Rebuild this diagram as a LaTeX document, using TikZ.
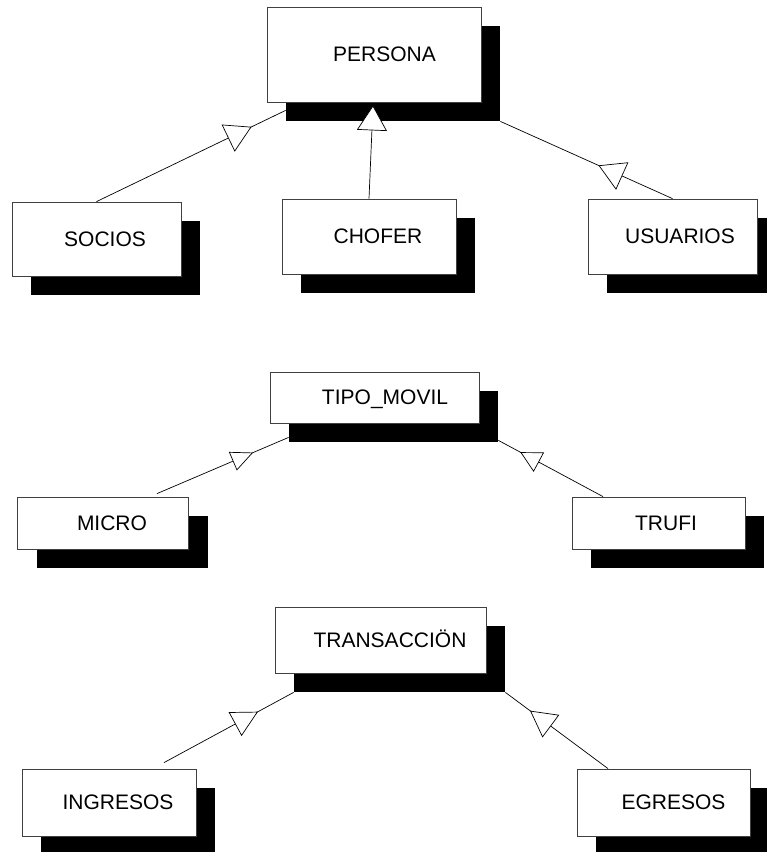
\documentclass[tikz,border=0pt]{standalone}
\usepackage{fontspec}
\setmainfont{Liberation Sans}
\usetikzlibrary{arrows.meta,shadows,decorations.markings,calc}

\tikzset{
  cls/.style={draw=black!75, line width=0.8pt, fill=white, inner sep=0pt,
    font=\fontsize{21pt}{24pt}\selectfont, text height=14.5pt, text depth=0pt,
    drop shadow={shadow xshift=19pt, shadow yshift=-19pt, opacity=1, fill=black}},
  link/.style={line width=0.7pt, draw=black},
  % generalisation line: open triangle placed part way along the line
  isa/.style n args={3}{link, postaction={decorate},
    decoration={markings, mark=at position #1 with
      {\arrow{Triangle[fill=white,length=#2pt,width=#3pt,line width=0.7pt]}}}}
}

\begin{document}
\begin{tikzpicture}[x=1pt,y=-1pt]
\useasboundingbox (0,0) rectangle (767,852);

% persons
\node[cls, minimum width=214pt, minimum height=95pt] (persona) at (374,54.5) {\hspace*{21pt}PERSONA};
\node[cls, minimum width=169pt, minimum height=74pt] (socios) at (96.5,239) {\hspace*{17pt}SOCIOS};
\node[cls, minimum width=174pt, minimum height=75pt] (chofer) at (369,236.5) {\hspace*{18pt}CHOFER};
\node[cls, minimum width=169pt, minimum height=75pt] (usuarios) at (672.5,236.5) {\hspace*{15pt}USUARIOS};

% vehicles
\node[cls, minimum width=209pt, minimum height=51pt] (tipo) at (374.5,397.5) {\hspace*{21pt}TIPO\_MOVIL};
\node[cls, minimum width=171pt, minimum height=52pt] (micro) at (103,523) {\hspace*{18pt}MICRO};
\node[cls, minimum width=173pt, minimum height=52pt] (trufi) at (658.5,523) {\hspace*{15pt}TRUFI};

% transactions
\node[cls, minimum width=211pt, minimum height=66pt] (trans) at (380.5,640) {\hspace*{19pt}TRANSACCIÖN};
\node[cls, minimum width=174pt, minimum height=67pt] (ingresos) at (109,802.5) {\hspace*{18pt}INGRESOS};
\node[cls, minimum width=173pt, minimum height=67pt] (egresos) at (663.5,802.5) {\hspace*{20pt}EGRESOS};

% generalisations
\draw[isa={0.82}{26}{30}] (socios.north) -- ($(persona.south west)+(19,8)$);
\draw[link, -{Triangle[fill=white,length=25pt,width=30pt,line width=0.7pt]}]
  (chofer.north) -- ($(persona.south)+(-1,3)$);
\draw[isa={0.43}{26}{30}] (usuarios.north) -- ($(persona.south east)+(19,19)$);

\draw[isa={0.73}{22}{20}] ($(micro.north)+(54,-3)$) -- ($(tipo.south west)+(19,14)$);
\draw[isa={0.79}{21}{22}] ($(trufi.north)+(-55.5,0)$) -- ($(tipo.south east)+(19,17)$);

\draw[isa={0.725}{26}{27}] ($(ingresos.north)+(55,-6)$) -- ($(trans.south west)+(19,19)$);
\draw[isa={0.76}{26}{28}] ($(egresos.north)+(-55.5,0)$) -- ($(trans.south east)+(19,19)$);
\end{tikzpicture}
\end{document}
